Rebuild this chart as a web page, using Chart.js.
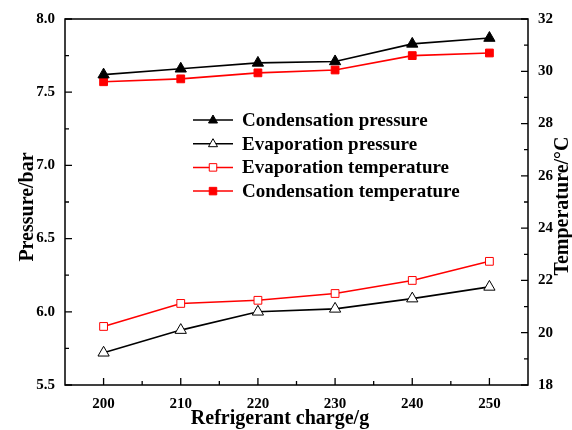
<!DOCTYPE html>
<html>
<head>
<meta charset="utf-8">
<title>Pressure / temperature vs refrigerant charge</title>
<script src="https://cdn.jsdelivr.net/npm/chart.js@4.4.1/dist/chart.umd.min.js"></script>
<style>
  html, body { margin:0; padding:0; background:#fff; }
  #wrap { width:572px; height:430px; }
</style>
</head>
<body>
<div id="wrap"><canvas id="myChart" width="572" height="430"></canvas></div>
<script>
// data
var charge = [200, 210, 220, 230, 240, 250];
var condPressure = [7.62, 7.66, 7.70, 7.71, 7.83, 7.87];
var evapPressure = [5.72, 5.875, 6.00, 6.02, 6.09, 6.17];
var evapTemp = [20.24, 21.12, 21.24, 21.5, 22.0, 22.73];
var condTemp = [29.6, 29.71, 29.94, 30.05, 30.6, 30.7];
var seriesNames = ["Condensation pressure", "Evaporation pressure", "Evaporation temperature", "Condensation temperature"];
var xTicks = [200, 210, 220, 230, 240, 250];
var pTicks = [5.5, 6.0, 6.5, 7.0, 7.5, 8.0];
var tTicks = [18, 20, 22, 24, 26, 28, 30, 32];
var xTitle = "Refrigerant charge/g";
var pTitle = "Pressure/bar";
var tTitle = "Temperature/\u00B0C";

var FONT = "'Liberation Serif', 'Times New Roman', serif";

function pts(arr){ return charge.map(function(c,i){ return {x:c, y:arr[i]}; }); }

// marker drawing for the legend
function marker(ctx, type, x, y, r, stroke, fill){
  ctx.save();
  ctx.beginPath();
  if(type=='triangle'){
    ctx.moveTo(x, y - r);
    ctx.lineTo(x + r*0.9, y + r*0.6);
    ctx.lineTo(x - r*0.9, y + r*0.6);
    ctx.closePath();
  } else {
    ctx.rect(x - r*0.75, y - r*0.75, r*1.5, r*1.5);
  }
  ctx.fillStyle = fill; ctx.fill();
  ctx.lineWidth = 1; ctx.strokeStyle = stroke; ctx.stroke();
  ctx.restore();
}

var frameTicks = {
  id: 'frameTicks',
  afterDraw: function(chart){
    var ctx = chart.ctx, a = chart.chartArea;
    var sx = chart.scales.x, sy = chart.scales.y, st = chart.scales.y2;
    ctx.save();
    ctx.strokeStyle = '#000';
    ctx.lineWidth = 1.5;
    ctx.strokeRect(a.left, a.top, a.right - a.left, a.bottom - a.top);
    ctx.lineWidth = 1.3;
    ctx.beginPath();
    var v, p;
    // x ticks (inward)
    for(v = 200; v <= 250; v += 5){
      p = sx.getPixelForValue(v);
      ctx.moveTo(p, a.bottom); ctx.lineTo(p, a.bottom - (v%10==0 ? 7 : 4));
    }
    // left ticks
    for(v = 5.5; v <= 8.001; v += 0.25){
      p = sy.getPixelForValue(v);
      var maj = Math.abs(v*2 - Math.round(v*2)) < 0.01;
      ctx.moveTo(a.left, p); ctx.lineTo(a.left + (maj ? 7 : 4), p);
    }
    // right ticks
    for(v = 18; v <= 32; v += 1){
      p = st.getPixelForValue(v);
      ctx.moveTo(a.right, p); ctx.lineTo(a.right - (v%2==0 ? 7 : 4), p);
    }
    ctx.stroke();

    // axis titles
    ctx.fillStyle = '#000';
    ctx.font = 'bold 20px ' + FONT;
    ctx.textAlign = 'center';
    ctx.textBaseline = 'alphabetic';
    ctx.fillText(xTitle, 280, 424);
    ctx.save();
    ctx.translate(33, 207); ctx.rotate(-Math.PI/2);
    ctx.fillText(pTitle, 0, 0);
    ctx.restore();
    ctx.save();
    ctx.translate(568, 206); ctx.rotate(-Math.PI/2);
    ctx.fillText(tTitle, 0, 0);
    ctx.restore();

    // legend inside the plot
    var lx = a.left + 128, ty = a.top + 101;
    var styles = [
      ['#000', 'triangle', '#000'],
      ['#000', 'triangle', '#fff'],
      ['#ff0000', 'rect', '#fff'],
      ['#ff0000', 'rect', '#ff0000']
    ];
    ctx.font = 'bold 19px ' + FONT;
    ctx.textAlign = 'left';
    ctx.textBaseline = 'middle';
    for(var i = 0; i < seriesNames.length; i++){
      var y = ty + i*23.7;
      ctx.beginPath();
      ctx.strokeStyle = styles[i][0];
      ctx.lineWidth = 1.5;
      ctx.moveTo(lx, y); ctx.lineTo(lx + 40, y);
      ctx.stroke();
      marker(ctx, styles[i][1], lx + 20, y, 5, styles[i][0], styles[i][2]);
      ctx.fillStyle = '#000';
      ctx.fillText(seriesNames[i], lx + 49, y + 1);
    }
    ctx.restore();
  }
};

var tickFont = { family: FONT, size: 15, weight: 'bold' };

var ctx = document.getElementById("myChart").getContext('2d');
var myChart = new Chart(ctx, {
  type: 'line',
  data: {
    datasets: [{
      label: seriesNames[0], data: pts(condPressure), yAxisID: 'y',
      borderColor: '#000', backgroundColor: '#000', borderWidth: 1.6,
      pointStyle: 'triangle', pointRadius: 6.5, pointBorderColor: '#000', pointBackgroundColor: '#000', pointBorderWidth: 1
    }, {
      label: seriesNames[1], data: pts(evapPressure), yAxisID: 'y',
      borderColor: '#000', backgroundColor: '#fff', borderWidth: 1.6,
      pointStyle: 'triangle', pointRadius: 6.5, pointBorderColor: '#000', pointBackgroundColor: '#fff', pointBorderWidth: 1
    }, {
      label: seriesNames[2], data: pts(evapTemp), yAxisID: 'y2',
      borderColor: '#ff0000', backgroundColor: '#fff', borderWidth: 1.6,
      pointStyle: 'rect', pointRadius: 5.5, pointBorderColor: '#ff0000', pointBackgroundColor: '#fff', pointBorderWidth: 1
    }, {
      label: seriesNames[3], data: pts(condTemp), yAxisID: 'y2',
      borderColor: '#ff0000', backgroundColor: '#ff0000', borderWidth: 1.6,
      pointStyle: 'rect', pointRadius: 5.5, pointBorderColor: '#ff0000', pointBackgroundColor: '#ff0000', pointBorderWidth: 1
    }]
  },
  options: {
    responsive: false,
    animation: false,
    devicePixelRatio: 1,
    layout: { padding: { top: 18, left: 0, right: 0, bottom: 0 } },
    plugins: { legend: { display: false }, tooltip: { enabled: false } },
    scales: {
      x: {
        type: 'linear', position: 'bottom', min: 195, max: 255,
        afterBuildTicks: function(s){ s.ticks = xTicks.map(function(v){ return {value:v}; }); },
        afterFit: function(s){ s.height = 45; },
        grid: { display: false, drawTicks: false }, border: { display: false },
        ticks: { color: '#000', padding: 10, maxRotation: 0, font: tickFont }
      },
      y: {
        type: 'linear', position: 'left', min: 5.5, max: 8.0,
        afterBuildTicks: function(s){ s.ticks = pTicks.map(function(v){ return {value:v}; }); },
        afterFit: function(s){ s.width = 65; },
        grid: { display: false, drawTicks: false }, border: { display: false },
        ticks: { color: '#000', padding: 10, callback: function(v){ return v.toFixed(1); }, font: tickFont }
      },
      y2: {
        type: 'linear', position: 'right', min: 18, max: 32,
        afterBuildTicks: function(s){ s.ticks = tTicks.map(function(v){ return {value:v}; }); },
        afterFit: function(s){ s.width = 44; },
        grid: { display: false, drawTicks: false }, border: { display: false },
        ticks: { color: '#000', padding: 10, font: tickFont }
      }
    }
  },
  plugins: [frameTicks]
});
</script>
</body>
</html>
